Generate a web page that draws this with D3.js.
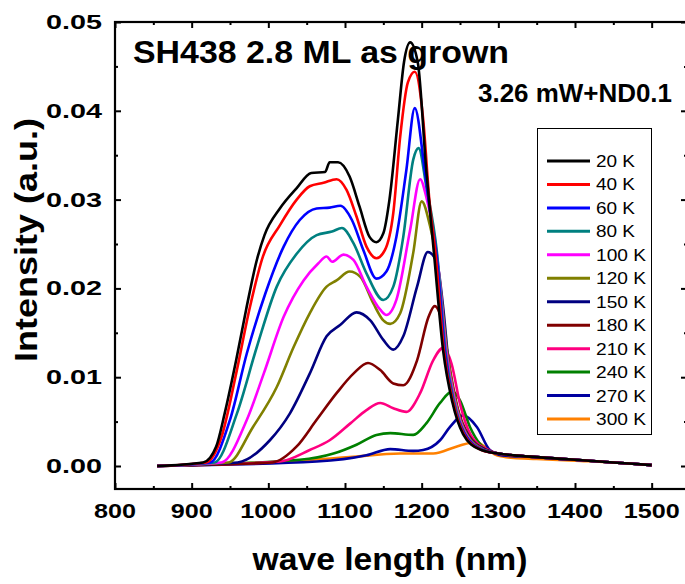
<!DOCTYPE html>
<html>
<head>
<meta charset="utf-8">
<script src="https://cdn.jsdelivr.net/npm/d3@7"></script>
<style>
  body { margin: 0; background: #fff; }
  svg { display: block; font-family: Arial, "Liberation Sans", sans-serif; }
</style>
</head>
<body>
<div id="chart"></div>
<script>
// PL spectra, [wavelength nm, intensity a.u.]
const labels = ['20 K', '40 K', '60 K', '80 K', '100 K', '120 K', '150 K', '180 K', '210 K', '240 K', '270 K', '300 K']
const colors = ['#000000', '#ff0000', '#0000ff', '#008080', '#ff00ff', '#808000', '#000080', '#800000', '#ff0080', '#008000', '#0000a0', '#ff8000']

const s20 = [[855, 0], [915, 0.0004], [932, 0.0022], [943, 0.0059], [958, 0.0119], [971, 0.0176], [985, 0.0232], [995, 0.026], [1015, 0.029], [1037, 0.0313], [1056, 0.033], [1074, 0.0331], [1080, 0.0342], [1091, 0.0342], [1106, 0.0326], [1119, 0.0292], [1132, 0.0258], [1141, 0.0252], [1150, 0.0262], [1158, 0.030], [1169, 0.039], [1177, 0.0455], [1185, 0.0477], [1195, 0.0454], [1206, 0.0333], [1216, 0.024], [1228, 0.013], [1240, 0.0072], [1254, 0.0036], [1275, 0.0019], [1300, 0.0014], [1320, 0.0012], [1350, 0.001], [1400, 0.0007], [1450, 0.0004], [1500, 0.0001]]
const s40 = [[855, 0], [919, 0.0004], [939, 0.0033], [958, 0.0104], [976, 0.0179], [993, 0.0236], [1015, 0.0271], [1037, 0.030], [1054, 0.0315], [1072, 0.0319], [1089, 0.0323], [1102, 0.0311], [1115, 0.0281], [1128, 0.0247], [1141, 0.0234], [1152, 0.0243], [1163, 0.0285], [1172, 0.0371], [1182, 0.0432], [1191, 0.0444], [1202, 0.039], [1210, 0.030], [1218, 0.024], [1229, 0.013], [1241, 0.0072], [1255, 0.0036], [1278, 0.0018], [1300, 0.0014], [1320, 0.0012], [1350, 0.001], [1400, 0.0007], [1450, 0.0004], [1500, 0.0001]]
const s60 = [[855, 0], [924, 0.0004], [950, 0.0052], [972, 0.0127], [996, 0.0194], [1020, 0.0247], [1041, 0.0277], [1063, 0.029], [1080, 0.0291], [1094, 0.0293], [1109, 0.0277], [1124, 0.0243], [1141, 0.0211], [1154, 0.0219], [1167, 0.0258], [1180, 0.0333], [1191, 0.0403], [1204, 0.0333], [1212, 0.028], [1219, 0.024], [1230, 0.013], [1241, 0.0072], [1256, 0.0036], [1280, 0.0018], [1300, 0.0014], [1320, 0.0012], [1350, 0.001], [1400, 0.0007], [1450, 0.0004], [1500, 0.0001]]
const s80 = [[855, 0], [930, 0.0004], [959, 0.0059], [985, 0.0134], [1011, 0.0202], [1037, 0.0239], [1063, 0.026], [1083, 0.0264], [1096, 0.0268], [1111, 0.0251], [1128, 0.0217], [1150, 0.0187], [1163, 0.0202], [1176, 0.0258], [1189, 0.0345], [1196, 0.0358], [1206, 0.0315], [1220, 0.024], [1231, 0.013], [1242, 0.0074], [1256, 0.0037], [1280, 0.0018], [1300, 0.0014], [1320, 0.0012], [1350, 0.001], [1400, 0.0007], [1450, 0.0004], [1500, 0.0001]]
const s100 = [[855, 0], [939, 0.0004], [972, 0.0052], [994, 0.0104], [1020, 0.0168], [1046, 0.0209], [1065, 0.0228], [1076, 0.0236], [1083, 0.023], [1098, 0.0238], [1111, 0.0232], [1128, 0.0202], [1146, 0.0176], [1154, 0.017], [1167, 0.0187], [1185, 0.0266], [1198, 0.0323], [1206, 0.0303], [1221, 0.023], [1232, 0.013], [1243, 0.0074], [1257, 0.0037], [1280, 0.0018], [1300, 0.0014], [1320, 0.0012], [1350, 0.001], [1400, 0.0007], [1450, 0.0004], [1500, 0.0001]]
const s120 = [[855, 0], [948, 0.0004], [980, 0.0044], [1011, 0.0089], [1033, 0.0134], [1054, 0.0172], [1076, 0.0202], [1089, 0.0209], [1106, 0.0219], [1120, 0.0213], [1137, 0.0183], [1150, 0.0164], [1159, 0.016], [1172, 0.0172], [1189, 0.024], [1200, 0.0298], [1211, 0.027], [1222, 0.022], [1233, 0.013], [1244, 0.0074], [1258, 0.0037], [1282, 0.0018], [1300, 0.0014], [1320, 0.0012], [1350, 0.001], [1400, 0.0007], [1450, 0.0004], [1500, 0.0001]]
const s150 = [[855, 0], [960, 0.0004], [1002, 0.0029], [1028, 0.0059], [1054, 0.0104], [1076, 0.0146], [1094, 0.0159], [1115, 0.0173], [1133, 0.0164], [1150, 0.0142], [1163, 0.0131], [1176, 0.0146], [1194, 0.0202], [1208, 0.0241], [1220, 0.0229], [1228, 0.0179], [1236, 0.011], [1246, 0.0066], [1260, 0.0035], [1284, 0.0018], [1300, 0.0014], [1320, 0.0012], [1350, 0.001], [1400, 0.0007], [1450, 0.0004], [1500, 0.0001]]
const s180 = [[855, 0], [1005, 0.0004], [1037, 0.0022], [1063, 0.0052], [1089, 0.0082], [1111, 0.0104], [1130, 0.0116], [1146, 0.0108], [1163, 0.0093], [1176, 0.0091], [1194, 0.0119], [1209, 0.0168], [1217, 0.018], [1228, 0.0157], [1237, 0.0108], [1247, 0.0065], [1261, 0.0035], [1285, 0.0018], [1300, 0.0014], [1320, 0.0012], [1350, 0.001], [1400, 0.0007], [1450, 0.0004], [1500, 0.0001]]
const s210 = [[855, 0], [1015, 0.0005], [1054, 0.0018], [1080, 0.0029], [1107, 0.0048], [1128, 0.0063], [1146, 0.0071], [1163, 0.0065], [1180, 0.0061], [1198, 0.0082], [1215, 0.0119], [1228, 0.0133], [1239, 0.0115], [1250, 0.007], [1264, 0.0035], [1287, 0.0018], [1300, 0.0014], [1320, 0.0012], [1350, 0.001], [1400, 0.0007], [1450, 0.0004], [1500, 0.0001]]
const s240 = [[855, 0], [1041, 0.0007], [1085, 0.0014], [1115, 0.0024], [1141, 0.0035], [1159, 0.0037], [1189, 0.0035], [1206, 0.0048], [1224, 0.0071], [1240, 0.0084], [1250, 0.0074], [1263, 0.0044], [1276, 0.0025], [1295, 0.0015], [1320, 0.0012], [1350, 0.001], [1400, 0.0007], [1450, 0.0004], [1500, 0.0001]]
const s270 = [[855, 0], [1063, 0.0005], [1128, 0.0012], [1159, 0.0019], [1189, 0.0017], [1202, 0.0018], [1224, 0.0029], [1237, 0.0044], [1254, 0.0057], [1272, 0.0044], [1289, 0.0018], [1305, 0.0012], [1350, 0.001], [1400, 0.0007], [1450, 0.0004], [1500, 0.0001]]
const s300 = [[855, 0], [889, 0.0001], [1020, 0.0005], [1106, 0.001], [1172, 0.0014], [1215, 0.0014], [1246, 0.0022], [1271, 0.0027], [1285, 0.002], [1298, 0.0012], [1320, 0.0009], [1350, 0.0008], [1400, 0.0006], [1450, 0.0004], [1500, 0.0001]]
const seriesData = [s20, s40, s60, s80, s100, s120, s150, s180, s210, s240, s270, s300]

const xTicks = [800, 900, 1000, 1100, 1200, 1300, 1400, 1500]
const yTicks = [0, 0.01, 0.02, 0.03, 0.04, 0.05]

const width = 685
const height = 584
const plot = { left: 115, right: 690, top: 22, bottom: 489 }

const svg = d3.select('#chart')
  .append('svg')
  .attr('width', width)
  .attr('height', height)

const x = d3.scaleLinear().domain([800, 1550]).range([plot.left, plot.right])
const y = d3.scaleLinear().domain([-0.00259, 0.05]).range([plot.bottom, plot.top])

// curves
const line = d3.line()
  .x(d => x(d[0]))
  .y(d => y(d[1]))
  .curve(d3.curveMonotoneX)

svg.append('g')
  .attr('class', 'curves')
  .selectAll('path')
  .data(seriesData.map((pts, i) => ({ pts, color: colors[i] })).reverse())
  .join('path')
  .attr('d', d => line(d.pts))
  .attr('fill', 'none')
  .attr('stroke', d => d.color)
  .attr('stroke-width', 2.6)
  .attr('stroke-linejoin', 'round')

// frame + inward ticks
const xMinor = d3.range(850, 1550, 100)
const yMinor = d3.range(0.005, 0.05, 0.01)

const axes = svg.append('g').attr('class', 'axes')

axes.append('g')
  .attr('transform', `translate(0,${plot.bottom})`)
  .call(d3.axisBottom(x).tickValues(xTicks).tickSize(-6).tickSizeOuter(0).tickFormat(''))
axes.append('g')
  .attr('transform', `translate(0,${plot.bottom})`)
  .call(d3.axisBottom(x).tickValues(xMinor).tickSize(-3).tickSizeOuter(0).tickFormat(''))
axes.append('g')
  .attr('transform', `translate(0,${plot.top})`)
  .call(d3.axisTop(x).tickValues(xTicks).tickSize(-6).tickSizeOuter(0).tickFormat(''))
axes.append('g')
  .attr('transform', `translate(0,${plot.top})`)
  .call(d3.axisTop(x).tickValues(xMinor).tickSize(-3).tickSizeOuter(0).tickFormat(''))
axes.append('g')
  .attr('transform', `translate(${plot.left},0)`)
  .call(d3.axisLeft(y).tickValues(yTicks).tickSize(-6).tickSizeOuter(0).tickFormat(''))
axes.append('g')
  .attr('transform', `translate(${plot.left},0)`)
  .call(d3.axisLeft(y).tickValues(yMinor).tickSize(-3).tickSizeOuter(0).tickFormat(''))
axes.append('g')
  .attr('transform', `translate(${plot.right - 3},0)`)
  .call(d3.axisRight(y).tickValues(yTicks).tickSize(-6).tickSizeOuter(0).tickFormat(''))
axes.append('g')
  .attr('transform', `translate(${plot.right - 3},0)`)
  .call(d3.axisRight(y).tickValues(yMinor).tickSize(-3).tickSizeOuter(0).tickFormat(''))

axes.selectAll('.domain').remove()
axes.selectAll('line').attr('stroke', '#000').attr('stroke-width', 2)

svg.append('rect')
  .attr('x', plot.left)
  .attr('y', plot.top)
  .attr('width', plot.right - 3 - plot.left)
  .attr('height', plot.bottom - plot.top)
  .attr('fill', 'none')
  .attr('stroke', '#000')
  .attr('stroke-width', 2.2)

// tick labels
svg.append('g')
  .selectAll('text')
  .data(xTicks)
  .join('text')
  .attr('x', d => x(d))
  .attr('y', 518)
  .attr('text-anchor', 'middle')
  .attr('font-size', 20)
  .attr('font-weight', 'bold')
  .attr('textLength', d => String(d).length * 14)
  .attr('lengthAdjust', 'spacingAndGlyphs')
  .text(d => d)

svg.append('g')
  .selectAll('text')
  .data(yTicks)
  .join('text')
  .attr('x', 102)
  .attr('y', d => y(d) + 7)
  .attr('text-anchor', 'end')
  .attr('font-size', 20)
  .attr('font-weight', 'bold')
  .attr('textLength', 56)
  .attr('lengthAdjust', 'spacingAndGlyphs')
  .text(d => d.toFixed(2))

// axis titles
svg.append('text')
  .attr('x', 390)
  .attr('y', 570)
  .attr('text-anchor', 'middle')
  .attr('font-size', 31)
  .attr('font-weight', 'bold')
  .attr('textLength', 275)
  .attr('lengthAdjust', 'spacingAndGlyphs')
  .text('wave length (nm)')

svg.append('text')
  .attr('transform', 'translate(37,240) rotate(-90)')
  .attr('text-anchor', 'middle')
  .attr('font-size', 31)
  .attr('font-weight', 'bold')
  .attr('textLength', 244)
  .attr('lengthAdjust', 'spacingAndGlyphs')
  .text('Intensity (a.u.)')

// annotations
svg.append('text')
  .attr('x', 133)
  .attr('y', 63)
  .attr('font-size', 31)
  .attr('font-weight', 'bold')
  .attr('textLength', 376)
  .attr('lengthAdjust', 'spacingAndGlyphs')
  .text('SH438 2.8 ML as grown')

svg.append('text')
  .attr('x', 478)
  .attr('y', 102)
  .attr('font-size', 25)
  .attr('font-weight', 'bold')
  .attr('textLength', 194)
  .attr('lengthAdjust', 'spacingAndGlyphs')
  .text('3.26 mW+ND0.1')

// legend
const legend = svg.append('g').attr('class', 'legend')
legend.append('rect')
  .attr('x', 537.5)
  .attr('y', 128.5)
  .attr('width', 114)
  .attr('height', 306)
  .attr('fill', '#fff')
  .attr('stroke', '#000')
  .attr('stroke-width', 1)

const rowY = d3.scaleLinear().domain([0, labels.length - 1]).range([161, 419])
const item = legend.selectAll('g.item')
  .data(labels)
  .join('g')
  .attr('class', 'item')
  .attr('transform', (d, i) => `translate(0,${rowY(i)})`)

item.append('line')
  .attr('x1', 547)
  .attr('x2', 590)
  .attr('stroke', (d, i) => colors[i])
  .attr('stroke-width', 3)

item.append('text')
  .attr('x', 596)
  .attr('y', 6)
  .attr('font-size', 17)
  .attr('textLength', d => d.length < 5 ? 39 : 50)
  .attr('lengthAdjust', 'spacingAndGlyphs')
  .text(d => d)
</script>
</body>
</html>
